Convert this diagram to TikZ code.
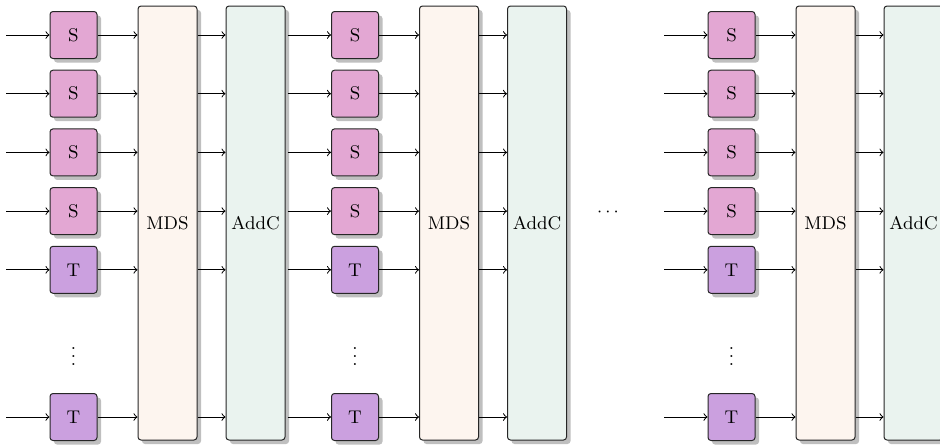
\documentclass[tikz,border=0pt]{standalone}
\usetikzlibrary{shadows}
\definecolor{sfill}{HTML}{E3A7D3}
\definecolor{tfill}{HTML}{CBA0DF}
\definecolor{mfill}{HTML}{FDF5EF}
\definecolor{afill}{HTML}{EAF3EF}
\begin{document}
\begin{tikzpicture}[x=0.5pt,y=-0.5pt,
  every node/.style={font=\fontsize{9.2}{11}\selectfont},
  gbox/.style={draw=black!85, line width=0.5pt, rounded corners=1.5pt,
    drop shadow={shadow xshift=2pt, shadow yshift=-2pt, fill=black!25, opacity=1}},
  smallbox/.style={gbox, minimum width=23.5pt, minimum height=23.5pt, inner sep=0pt},
  tallbox/.style={gbox, minimum width=29.5pt, minimum height=217pt, inner sep=0pt},
  conn/.style={->, line width=0.5pt}]
\useasboundingbox (0,0) rectangle (940,445);
\foreach \b/\dx in {1/0, 2/281.5, 3/658} {
  \node[tallbox, fill=mfill] (mds\b) at (167.5+\dx, 223) {MDS};
  \node[tallbox, fill=afill] (addc\b) at (255.5+\dx, 223) {AddC};
  \foreach \r/\y/\t/\c in {1/35/S/sfill, 2/93.7/S/sfill, 3/152.4/S/sfill, 4/211.1/S/sfill, 5/269.8/T/tfill, 6/417/T/tfill} {
    \node[smallbox, fill=\c] (s\b-\r) at (73.5+\dx, \y) {\t};
    \coordinate (in\b-\r) at (6+\dx, \y);
    \draw[conn] (in\b-\r) -- (s\b-\r);
    \draw[conn] (s\b-\r) -- (s\b-\r -| mds\b.west);
    \draw[conn] (mds\b.east |- s\b-\r) -- (addc\b.west |- s\b-\r);
  }
  \node (vd\b) at (73.5+\dx, 350) {$\vdots$};
}
\node (hd) at (608, 212) {$\cdots$};
\end{tikzpicture}
\end{document}
